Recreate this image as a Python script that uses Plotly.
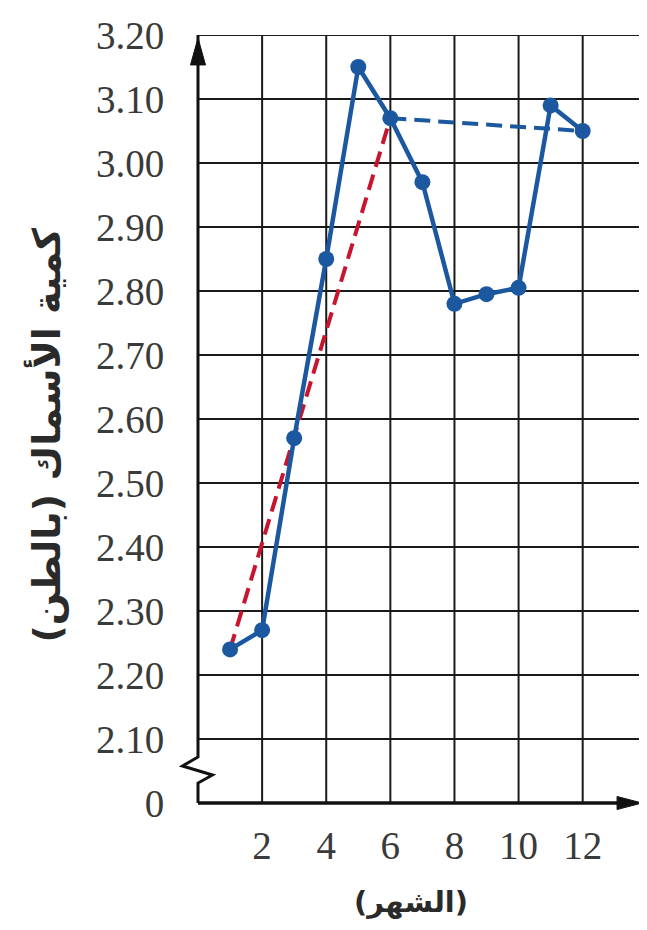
import plotly.graph_objects as go

months = [1, 2, 3, 4, 5, 6, 7, 8, 9, 10, 11, 12]
fish = [2.24, 2.27, 2.57, 2.85, 3.15, 3.07, 2.97, 2.78, 2.795, 2.805, 3.09, 3.05]

red_x = [1, 6]
red_y = [2.24, 3.07]
blue_dash_x = [6, 12]
blue_dash_y = [3.07, 3.05]

y_tickvals = [2.00, 2.10, 2.20, 2.30, 2.40, 2.50, 2.60, 2.70, 2.80, 2.90, 3.00, 3.10, 3.20]
y_ticktext = ["0", "2.10", "2.20", "2.30", "2.40", "2.50", "2.60", "2.70", "2.80", "2.90", "3.00", "3.10", "3.20"]
x_tickvals = [2, 4, 6, 8, 10, 12]
x_gridvals = [2, 4, 6, 8, 10, 12]

y_title = "كمية الأسماك (بالطن)"
x_title = "(الشهر)"

X_MAX = 13.85
BLUE = "#1b58a0"
RED = "#c8152f"
GRID = "#1a1a1a"
AX = "#111111"
TXT = "#3a3a3a"

fig = go.Figure()
fig.add_trace(go.Scatter(x=red_x, y=red_y, mode="lines",
                         line=dict(color=RED, width=4, dash="16px,8px"), hoverinfo="skip"))
fig.add_trace(go.Scatter(x=blue_dash_x, y=blue_dash_y, mode="lines",
                         line=dict(color=BLUE, width=4, dash="16px,8px"), hoverinfo="skip"))
fig.add_trace(go.Scatter(x=months, y=fish, mode="lines+markers",
                         line=dict(color=BLUE, width=4.5),
                         marker=dict(color=BLUE, size=16)))

# grid
for gx in x_gridvals:
    fig.add_shape(type="line", xref="x", yref="paper", x0=gx, x1=gx, y0=0, y1=1,
                  line=dict(color=GRID, width=2), layer="below")
fig.add_shape(type="line", xref="paper", yref="paper", x0=1, x1=1, y0=0, y1=1,
              line=dict(color="#555555", width=2), layer="below")
for gy in y_tickvals[1:]:
    fig.add_shape(type="line", xref="paper", yref="y", x0=0, x1=1, y0=gy, y1=gy,
                  line=dict(color=GRID, width=2), layer="below")

# y axis with break zigzag
fig.add_shape(type="path", xref="paper", yref="paper",
              path="M 0 0 L 0 0.026 L 0.0326 0.0365 L -0.0349 0.0482 L 0 0.0599 L 0 1",
              line=dict(color=AX, width=3), layer="above")
# x axis
fig.add_shape(type="line", xref="paper", yref="paper", x0=0, x1=0.95, y0=0, y1=0,
              line=dict(color=AX, width=3.5), layer="above")
# arrow heads
fig.add_shape(type="path", xref="paper", yref="paper",
              path="M 0 0.996 L -0.0169 0.961 L 0.0169 0.961 Z",
              fillcolor=AX, line=dict(color=AX, width=1), layer="above")
fig.add_shape(type="path", xref="paper", yref="paper",
              path="M 1.0 0 L 0.9438 0.0085 L 0.9438 -0.0085 Z",
              fillcolor=AX, line=dict(color=AX, width=1), layer="above")

fig.add_annotation(text=y_title, xref="paper", yref="paper", x=-0.342, y=0.48,
                   xanchor="center", yanchor="middle", textangle=-90, showarrow=False,
                   font=dict(family="DejaVu Sans", size=38, color="#2a2a2a", weight="bold"))
fig.add_annotation(text=x_title, xref="paper", yref="paper", x=0.48, y=-0.152,
                   xanchor="center", yanchor="bottom", showarrow=False, borderpad=0,
                   font=dict(family="DejaVu Sans", size=29, color="#2a2a2a", weight="bold"))

fig.update_layout(
    width=639, height=914,
    margin=dict(l=190, r=5, t=27, b=119, autoexpand=False),
    paper_bgcolor="white", plot_bgcolor="white",
    showlegend=False,
    font=dict(family="Liberation Serif", color=TXT),
)
fig.update_xaxes(range=[0, X_MAX], showgrid=False, zeroline=False, automargin=False,
                 tickvals=x_tickvals, ticktext=[str(v) for v in x_tickvals],
                 ticks="outside", ticklen=8, tickcolor="rgba(0,0,0,0)",
                 tickfont=dict(family="Liberation Serif", size=39, color=TXT),
                 showline=False)
fig.update_yaxes(range=[2.0, 3.2], showgrid=False, zeroline=False, automargin=False,
                 tickvals=y_tickvals, ticktext=y_ticktext,
                 ticks="outside", ticklen=25, tickcolor="rgba(0,0,0,0)",
                 tickfont=dict(family="Liberation Serif", size=39, color=TXT),
                 showline=False)

fig.write_html("out.html")
